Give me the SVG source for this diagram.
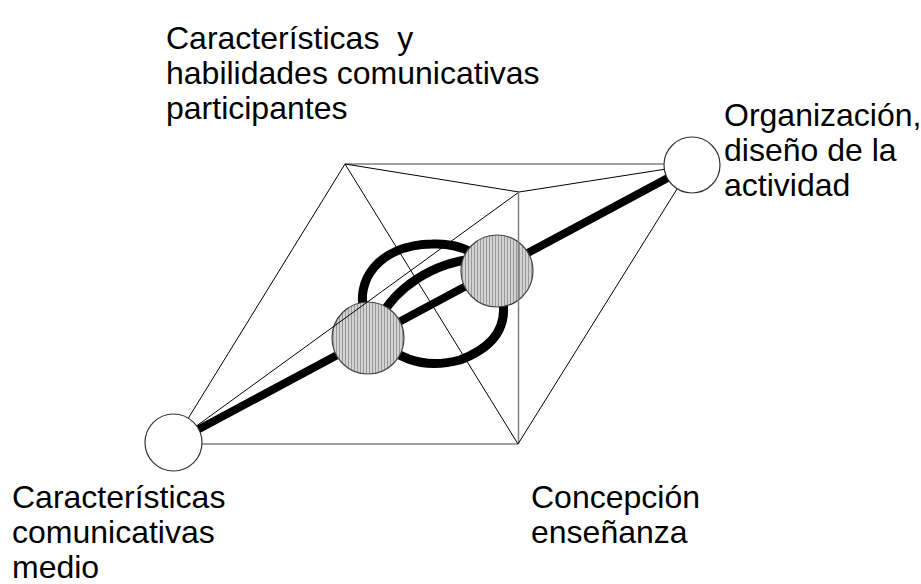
<svg xmlns="http://www.w3.org/2000/svg" width="921" height="584" viewBox="0 0 921 584">
<defs>
<pattern id="hatch" width="3" height="3" patternUnits="userSpaceOnUse">
<rect width="3" height="3" fill="#d2d2d2"/>
<rect width="1" height="3" fill="#9a9a9a"/>
</pattern>
<style>
.t{font-family:"Liberation Sans",Arial,sans-serif;font-size:32px;fill:#000}
.thin{stroke:#000;stroke-width:1;fill:none}
.grey{stroke:#808080;stroke-width:1.5;fill:none}
.thick{stroke:#000;stroke-width:8;fill:none;stroke-linecap:butt}
.ring{stroke:#000;stroke-width:9;fill:none}
.end{fill:#fff;stroke:#333;stroke-width:1.2}
.mid{fill:url(#hatch);stroke:#444;stroke-width:1.2}
</style>
</defs>
<rect width="921" height="584" fill="#fff"/>
<g id="connectors">
<line class="thick" x1="173" y1="443" x2="692" y2="165"/>
<path class="ring" d="M366,318 C352,280 380,245 432,244 C455,243 470,250 480,258"/>
<path class="ring" d="M380,318 C395,290 430,262 480,258"/>
<path class="ring" d="M500,290 C510,320 500,345 460,360 C430,368 405,362 385,345"/>
</g>
<g id="mid1"><circle class="mid" cx="368" cy="338" r="36"/></g>
<g id="mid2"><circle class="mid" cx="497" cy="271" r="36"/></g>
<g id="edges">
<line class="thin" x1="173" y1="443" x2="345" y2="164"/>
<line class="thin" x1="173" y1="443" x2="519" y2="192"/>
<line class="grey" x1="173" y1="444" x2="518" y2="444"/>
<line class="grey" x1="345" y1="164" x2="692" y2="164"/>
<line class="thin" x1="345" y1="164" x2="519" y2="192"/>
<line class="thin" x1="345" y1="164" x2="518" y2="444"/>
<line class="grey" x1="518.5" y1="192" x2="518.5" y2="444"/>
<line class="thin" x1="519" y1="192" x2="692" y2="165"/>
<line class="thin" x1="692" y1="165" x2="518" y2="444"/>
</g>
<g id="node-medio"><circle class="end" cx="173.5" cy="442.5" r="28.5"/></g>
<g id="node-organizacion"><circle class="end" cx="692" cy="165" r="28"/></g>
<g id="labels">
<text class="t" x="166" y="49" xml:space="preserve">Características  y</text>
<text class="t" x="166" y="84">habilidades comunicativas</text>
<text class="t" x="166" y="119">participantes</text>
<text class="t" x="724" y="126">Organización,</text>
<text class="t" x="724" y="161">diseño de la</text>
<text class="t" x="724" y="196">actividad</text>
<text class="t" x="12" y="508">Características</text>
<text class="t" x="12" y="543">comunicativas</text>
<text class="t" x="12" y="578">medio</text>
<text class="t" x="531" y="508">Concepción</text>
<text class="t" x="531" y="543">enseñanza</text>
</g>
</svg>
